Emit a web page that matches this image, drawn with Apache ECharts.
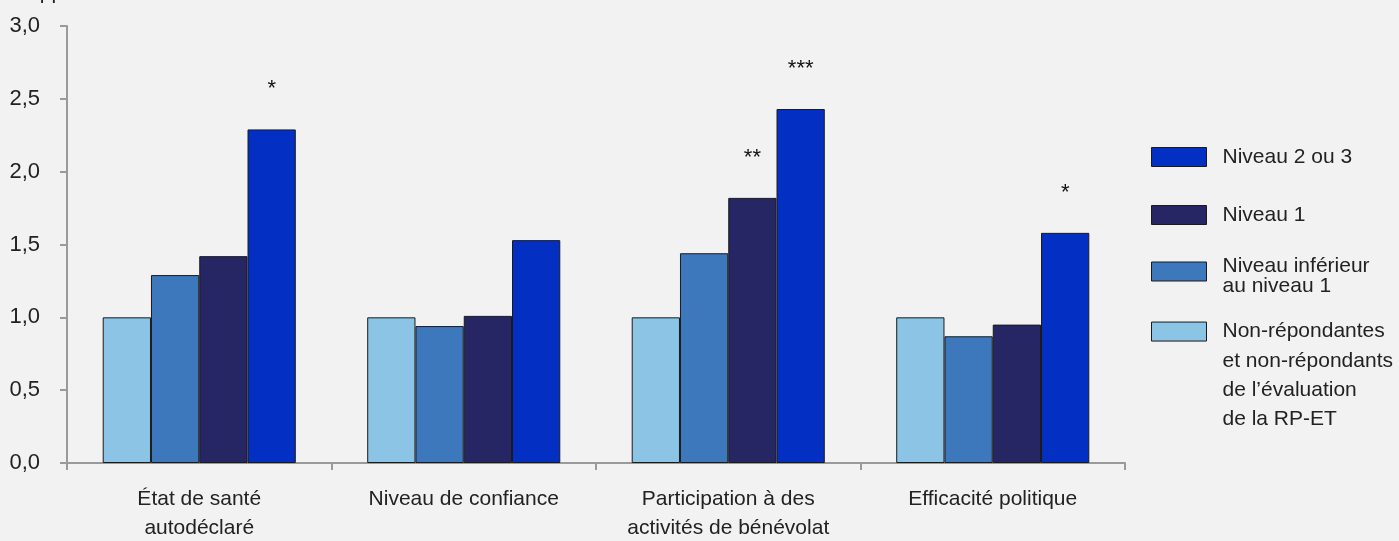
<!DOCTYPE html>
<html>
<head>
<meta charset="utf-8">
<script src="https://cdn.jsdelivr.net/npm/echarts@6/dist/echarts.min.js"></script>
<style>
html,body{margin:0;padding:0;background:#f2f2f2;}
#c{width:1399px;height:541px;}
</style>
</head>
<body>
<div id="c"></div>
<script>
var categories = ['État de santé\nautodéclaré', 'Niveau de confiance', 'Participation à des\nactivités de bénévolat', 'Efficacité politique'];
var seriesNames = ['Non-répondantes et non-répondants de l’évaluation de la RP-ET', 'Niveau inférieur au niveau 1', 'Niveau 1', 'Niveau 2 ou 3'];
var legendLabels = ['Non-répondantes\net non-répondants\nde l’évaluation\nde la RP-ET', 'Niveau inférieur\nau niveau 1', 'Niveau 1', 'Niveau 2 ou 3'];
var nonRepondants = [1.0, 1.0, 1.0, 1.0];
var inferieurNiveau1 = [1.29, 0.94, 1.44, 0.87];
var niveau1 = [1.42, 1.01, 1.82, 0.95];
var niveau2ou3 = [2.29, 1.53, 2.43, 1.58];
var starsNonRep = ['', '', '', ''];
var starsInf = ['', '', '', ''];
var starsN1 = ['', '', '**', ''];
var starsN23 = ['*', '', '***', '*'];
var yTicks = ['0,0', '0,5', '1,0', '1,5', '2,0', '2,5', '3,0'];
var yAxisTitle = 'Rapport de cotes';

var FONT = '"Liberation Sans", Arial, sans-serif';
var colors = ['#8cc4e6', '#3e78bc', '#272664', '#0330c3'];
var values = [nonRepondants, inferieurNiveau1, niveau1, niveau2ou3];
var stars = [starsNonRep, starsInf, starsN1, starsN23];

var series = values.map(function (vals, i) {
  return {
    name: seriesNames[i],
    type: 'bar',
    barGap: '0%',
    barCategoryGap: '27%',
    data: vals,
    itemStyle: {color: colors[i], borderColor: '#1a1a1a', borderWidth: 1},
    label: {
      show: true,
      position: 'top',
      distance: 29,
      fontFamily: FONT,
      fontSize: 22,
      color: '#111',
      formatter: function (p) { return stars[i][p.dataIndex]; }
    }
  };
});

function legendItem(idx, top, fmt, style) {
  var st = {fontFamily: FONT, fontSize: 21, color: '#222', padding: [0, 0, 0, 11]};
  for (var k in style) st[k] = style[k];
  return {
    orient: 'vertical',
    left: 1151,
    top: top,
    padding: 0,
    itemWidth: 55,
    itemHeight: 19,
    itemGap: 0,
    icon: 'rect',
    data: [seriesNames[idx]],
    selectedMode: false,
    itemStyle: {borderColor: '#1a1a1a', borderWidth: 1},
    textStyle: st,
    formatter: fmt
  };
}

var legends = [
  legendItem(3, 146, function () { return legendLabels[3]; }, {lineHeight: 22}),
  legendItem(2, 204, function () { return legendLabels[2]; }, {lineHeight: 22}),
  legendItem(1, 247.5, function () {
    var parts = legendLabels[1].split('\n');
    return '{s| }\n{a|' + parts[0] + '}\n{a|' + parts[1] + '}';
  }, {rich: {s: {lineHeight: 10, fontSize: 8, fontFamily: FONT}, a: {lineHeight: 20, fontSize: 21, fontFamily: FONT, color: '#222'}}}),
  legendItem(0, 229, function () { return '\n\n\n' + legendLabels[0]; }, {lineHeight: 29.3})
];

var chart = echarts.init(document.getElementById('c'), null, {renderer: 'canvas'});
chart.setOption({
  backgroundColor: '#f2f2f2',
  animation: false,
  textStyle: {fontFamily: FONT},
  graphic: [{
    type: 'text',
    left: 13,
    top: -17,
    style: {text: yAxisTitle, font: '21px ' + FONT, fill: '#222'}
  }],
  grid: {left: 67, right: 274, top: 26, bottom: 78, containLabel: false, outerBoundsMode: 'none'},
  legend: legends,
  xAxis: {
    type: 'category',
    data: categories,
    axisLine: {lineStyle: {color: '#9a9a9a', width: 2}},
    axisTick: {show: true, length: 7, lineStyle: {color: '#9a9a9a', width: 2}},
    axisLabel: {fontFamily: FONT, fontSize: 21, color: '#222', lineHeight: 29, margin: 22, interval: 0}
  },
  yAxis: {
    type: 'value',
    min: 0,
    max: 3,
    interval: 0.5,
    splitLine: {show: false},
    axisLine: {show: true, lineStyle: {color: '#9a9a9a', width: 2}},
    axisTick: {show: true, length: 7, lineStyle: {color: '#9a9a9a', width: 2}},
    axisLabel: {
      fontFamily: FONT, fontSize: 22, color: '#222', margin: 27,
      formatter: function (v) { return yTicks[Math.round(v / 0.5)]; }
    }
  },
  series: series
});
</script>
</body>
</html>
